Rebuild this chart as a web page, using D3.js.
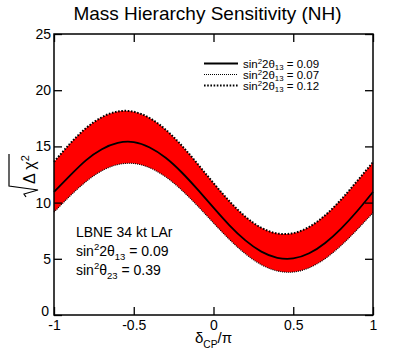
<!DOCTYPE html>
<html><head><meta charset="utf-8">
<script src="https://cdn.jsdelivr.net/npm/d3@7"></script>
<style>
html,body{margin:0;padding:0;background:#fff;}
svg{display:block;font-family:"Liberation Sans",Arial,Helvetica,sans-serif;}
text{white-space:pre;}
</style></head>
<body>
<svg id="chart" width="415" height="351"></svg>
<script>
// ---- data ----
const deltaCP = [-1,-0.9,-0.8,-0.7,-0.6,-0.5,-0.4,-0.3,-0.2,-0.1,0,0.1,0.2,0.3,0.4,0.5,0.6,0.7,0.8,0.9,1];
const sens009 = [10.95,12.4,13.76,14.75,15.31,15.38,14.9,13.99,12.7,11.17,9.55,7.98,6.64,5.64,5.09,5.03,5.49,6.41,7.69,9.23,10.95];
const sens007 = [9.15,10.58,11.86,12.83,13.38,13.48,13.1,12.29,11.12,9.71,8.19,6.72,5.44,4.47,3.92,3.82,4.2,5.01,6.18,7.59,9.1];
const sens012 = [13.62,15.24,16.62,17.6,18.11,18.08,17.52,16.49,15.09,13.45,11.74,10.12,8.75,7.76,7.25,7.28,7.84,8.87,10.27,11.91,13.6];
const xTicks = [-1,-0.5,0,0.5,1];
const xTickLabels = ["-1","-0.5","0","0.5","1"];
const yTicks = [0,5,10,15,20,25];
const legendValues = ["0.09","0.07","0.12"];

const svg = d3.select("#chart");
const L = 54, R = 373, T = 34, B = 315;
const x = d3.scaleLinear().domain([-1,1]).range([L,R]);
const y = d3.scaleLinear().domain([0,25]).range([B,T]);

function rich(g, px, py, fs, parts, anchor, supK, subK){
  supK = supK || 0.38; subK = subK || 0.3;
  const t = g.append("text").attr("x",px).attr("y",py).style("font-size",fs+"px").attr("fill","#000");
  if(anchor) t.attr("text-anchor",anchor);
  let shift = 0;
  parts.forEach(p=>{
    const target = p.sup ? -supK*fs : (p.sub ? subK*fs : 0);
    t.append("tspan").attr("dy", target-shift)
      .style("font-size", ((p.sup||p.sub)?0.68*fs:fs)+"px").text(p.t);
    shift = target;
  });
  return t;
}

// title
svg.append("text").attr("x",207.5).attr("y",19.5).attr("text-anchor","middle")
  .style("font-size","19px").text("Mass Hierarchy Sensitivity (NH)");

// band
const pts = deltaCP.map((d,i)=>({x:d, lo:sens007[i], hi:sens012[i], mid:sens009[i]}));
const area = d3.area().x(d=>x(d.x)).y0(d=>y(d.lo)).y1(d=>y(d.hi)).curve(d3.curveNatural);
svg.append("path").datum(pts).attr("d",area).attr("fill","#ff0000");
const lineOf = key => d3.line().x(d=>x(d.x)).y(d=>y(d[key])).curve(d3.curveNatural);
svg.append("path").datum(pts).attr("d",lineOf("hi")).attr("fill","none")
  .attr("stroke","#000").attr("stroke-width",2).attr("stroke-dasharray","1.6,1.6");
svg.append("path").datum(pts).attr("d",lineOf("lo")).attr("fill","none")
  .attr("stroke","#000").attr("stroke-width",1.1).attr("stroke-dasharray","1,1");
svg.append("path").datum(pts).attr("d",lineOf("mid")).attr("fill","none")
  .attr("stroke","#000").attr("stroke-width",1.8);

// axes
const gx = svg.append("g").attr("transform",`translate(0,${B})`)
  .call(d3.axisBottom(x).tickValues(xTicks).tickFormat((d,i)=>xTickLabels[i]).tickSize(-8).tickSizeOuter(0).tickPadding(5));
const gy = svg.append("g").attr("transform",`translate(${L},0)`)
  .call(d3.axisLeft(y).tickValues(yTicks).tickSize(-8).tickSizeOuter(0).tickPadding(3));
const gt = svg.append("g").attr("transform",`translate(0,${T})`)
  .call(d3.axisTop(x).tickValues(xTicks).tickFormat("").tickSize(-8).tickSizeOuter(0));
const gr = svg.append("g").attr("transform",`translate(${R},0)`)
  .call(d3.axisRight(y).tickValues(yTicks).tickFormat("").tickSize(-8).tickSizeOuter(0));
[gx,gy,gt,gr].forEach(g=>{
  g.select(".domain").remove();
  g.attr("font-family",null);
  g.selectAll(".tick line").attr("stroke","#000").attr("stroke-width",1.3);
  g.selectAll("text").style("font-size","14px").attr("fill","#000");
});
// lift the "0" label slightly, as in the reference, so it clears "-1"
gy.selectAll(".tick text").filter(d=>d===0).attr("y",-4).attr("x",-5);
svg.append("rect").attr("x",L).attr("y",T).attr("width",R-L).attr("height",B-T)
  .attr("fill","none").attr("stroke","#000").attr("stroke-width",1.5);

// x label
rich(svg, 213.5, 343, 15, [{t:"δ"},{t:"CP",sub:true},{t:"/π"}], "middle");

// y label (rotated sqrt(Δχ²))
const yl = svg.append("g").attr("transform","translate(35,176) rotate(-90)");
yl.append("path").attr("d","M-21,-9 L-18,-11 L-14,3 L-10,-26 L22,-26")
  .attr("fill","none").attr("stroke","#000").attr("stroke-width",1.2);
rich(yl, -8, 0, 16, [{t:"Δ χ"},{t:"2",sup:true}]);

// legend
const leg = svg.append("g");
const legDash = [null,"1,1","1.6,1.6"];
const legW = [1.8,1.1,2];
legendValues.forEach((v,i)=>{
  const by = 67.5 + i*11;
  leg.append("line").attr("x1",204).attr("x2",238).attr("y1",by-4).attr("y2",by-4)
    .attr("stroke","#000").attr("stroke-width",legW[i]).attr("stroke-dasharray",legDash[i]);
  rich(leg, 243, by, 11.5, [{t:"sin"},{t:"2",sup:true},{t:"2θ"},{t:"13",sub:true},{t:" = "+v}], null, 0.33, 0.25);
});

// annotation
svg.append("text").attr("x",76).attr("y",236.5).style("font-size","14px").text("LBNE 34 kt LAr");
rich(svg, 76, 255.5, 14, [{t:"sin"},{t:"2",sup:true},{t:"2θ"},{t:"13",sub:true},{t:" = 0.09"}]);
rich(svg, 76, 274.5, 14, [{t:"sin"},{t:"2",sup:true},{t:"θ"},{t:"23",sub:true},{t:" = 0.39"}]);
</script>
</body></html>
